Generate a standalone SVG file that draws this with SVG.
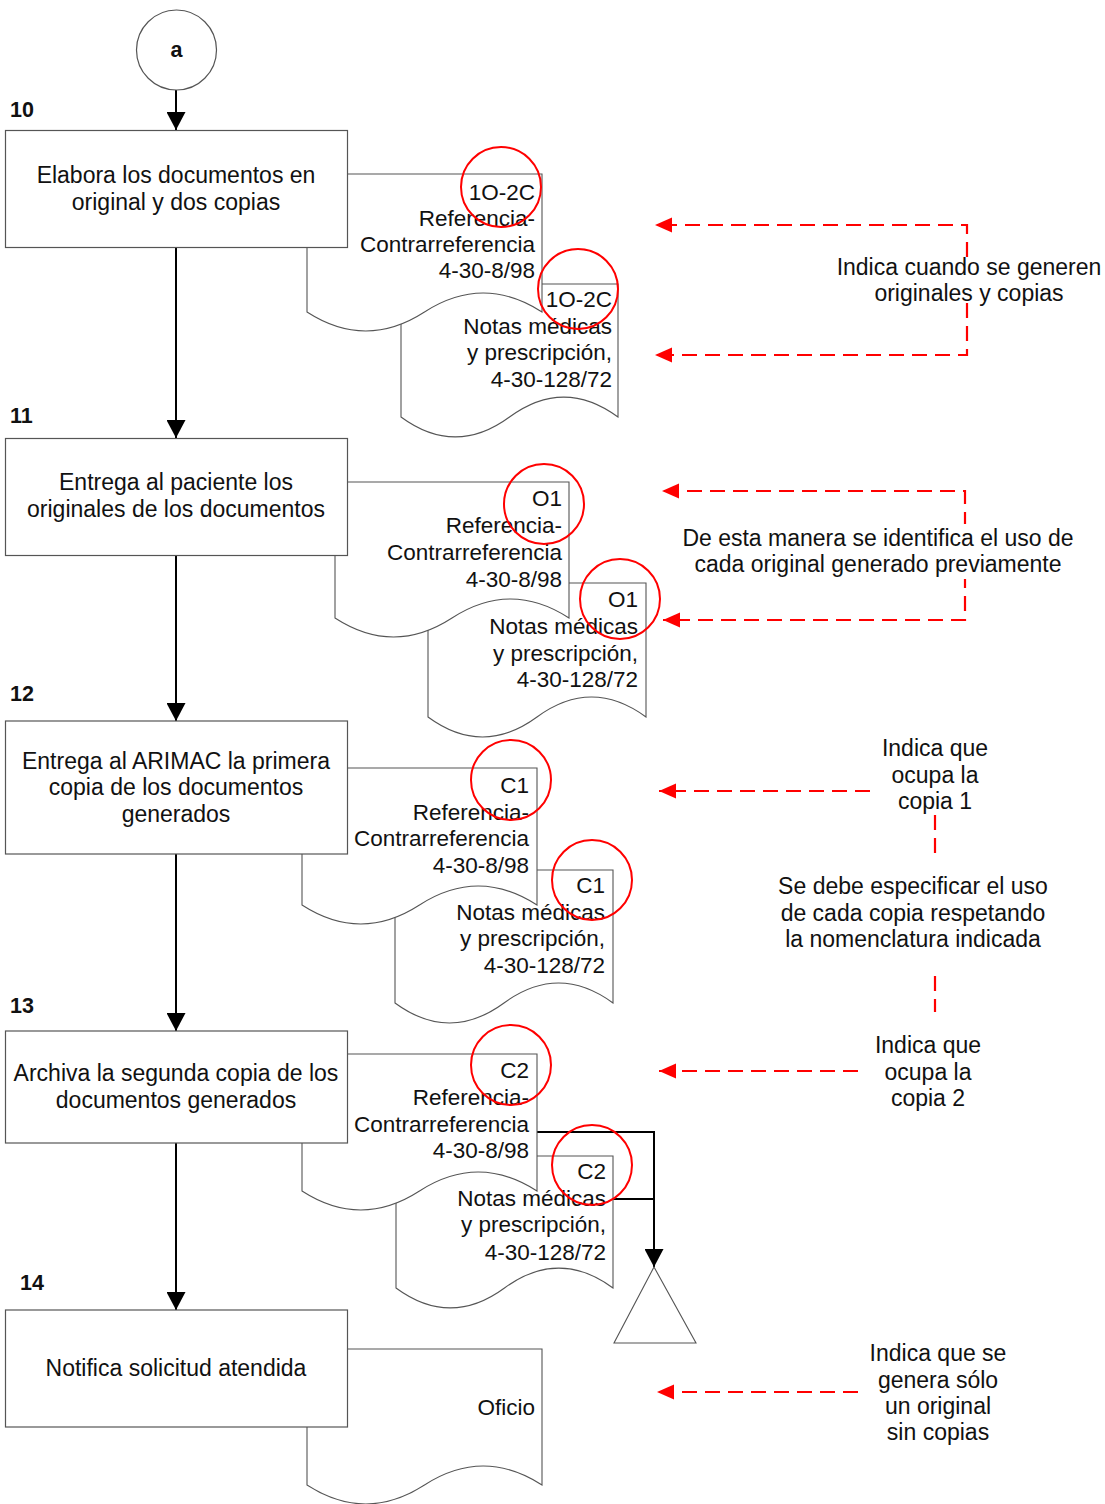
<svg xmlns="http://www.w3.org/2000/svg" width="1105" height="1504" viewBox="0 0 1105 1504">
  <style>
    .box { fill: #fff; stroke: #555; stroke-width: 1.2; }
    .doc { fill: #fff; stroke: #555; stroke-width: 1.1; }
    .t { font-family: "Liberation Sans", Arial, Helvetica, sans-serif; font-size: 23px; fill: #111; }
    .tc { text-anchor: middle; }
    .dt { font-family: "Liberation Sans", Arial, Helvetica, sans-serif; font-size: 22.5px; fill: #111; text-anchor: end; }
    .num { font-family: "Liberation Sans", Arial, Helvetica, sans-serif; font-size: 21.5px; font-weight: bold; fill: #111; }
    .flow { fill: none; stroke: #000; stroke-width: 2; }
    .note { fill: none; stroke: #f00; stroke-width: 2.2; stroke-dasharray: 15 8; }
    .mark { fill: none; stroke: #f00; stroke-width: 2; }
    .bg { fill: #fff; stroke: none; }
  </style>
  <defs>
    <marker id="arrowBlack" markerUnits="userSpaceOnUse" markerWidth="19" markerHeight="19" refX="18" refY="9.5" orient="auto">
      <path d="M0,0 L18,9.5 L0,19 Z" fill="#000"/>
    </marker>
    <marker id="arrowRed" markerUnits="userSpaceOnUse" markerWidth="18" markerHeight="16" refX="17" refY="7.5" orient="auto">
      <path d="M0,0 L17,7.5 L0,15 Z" fill="#f00"/>
    </marker>
  </defs>

  <rect width="1105" height="1504" fill="#fff"/>

  <!-- main flow and annotation connectors -->
  <g id="connectors">
    <path class="flow" d="M176,90 V130" marker-end="url(#arrowBlack)"/>
    <path class="flow" d="M176,247 V438" marker-end="url(#arrowBlack)"/>
    <path class="flow" d="M176,556 V721" marker-end="url(#arrowBlack)"/>
    <path class="flow" d="M176,854 V1031" marker-end="url(#arrowBlack)"/>
    <path class="flow" d="M176,1143 V1310" marker-end="url(#arrowBlack)"/>
    <path class="flow" d="M537,1132 H654 V1267" marker-end="url(#arrowBlack)"/>
    <path class="flow" d="M613,1199 H654"/>

    <path class="note" d="M967,280 V225 H655" marker-end="url(#arrowRed)"/>
    <path class="note" d="M967,280 V355 H655" marker-end="url(#arrowRed)"/>
    <path class="note" d="M965,550 V491 H662" marker-end="url(#arrowRed)"/>
    <path class="note" d="M965,550 V620 H663" marker-end="url(#arrowRed)"/>
    <path class="note" d="M870,791 H659" marker-end="url(#arrowRed)"/>
    <path class="note" d="M935,815 V1012"/>
    <path class="note" d="M858,1071 H659" marker-end="url(#arrowRed)"/>
    <path class="note" d="M858,1392 H657" marker-end="url(#arrowRed)"/>
  </g>

  <!-- connector circle -->
  <g id="start-a">
    <circle cx="176.5" cy="50" r="40" fill="#fff" stroke="#555" stroke-width="1.2"/>
    <text class="num" x="176.5" y="57" text-anchor="middle">a</text>
  </g>

  <!-- step 10 -->
  <g id="step-10">
    <text class="num" x="10" y="117">10</text>
    <path class="doc" d="M401,417 V284 H618 V417 C581.8,390.4 545.7,390.4 509.5,417 S437.2,443.6 401,417 Z"/>
    <text class="dt" x="612" y="307">1O-2C</text>
    <text class="dt" x="612" y="334">Notas médicas</text>
    <text class="dt" x="612" y="360">y prescripción,</text>
    <text class="dt" x="612" y="387">4-30-128/72</text>
    <path class="doc" d="M307,312 V174 H542 V312 C502.8,286.7 463.7,286.7 424.5,312 S346.2,337.3 307,312 Z"/>
    <text class="dt" x="535" y="200">1O-2C</text>
    <text class="dt" x="535" y="226">Referencia-</text>
    <text class="dt" x="535" y="252">Contrarreferencia</text>
    <text class="dt" x="535" y="278">4-30-8/98</text>
    <rect class="box" x="5.5" y="130.5" width="342" height="117"/>
    <text class="t tc" x="176" y="183">Elabora los documentos en</text>
    <text class="t tc" x="176" y="210">original y dos copias</text>
  </g>

  <!-- step 11 -->
  <g id="step-11">
    <text class="num" x="10" y="423">11</text>
    <path class="doc" d="M428,717 V583 H646 V717 C609.7,690.4 573.3,690.4 537,717 S464.3,743.6 428,717 Z"/>
    <text class="dt" x="638" y="607">O1</text>
    <text class="dt" x="638" y="634">Notas médicas</text>
    <text class="dt" x="638" y="661">y prescripción,</text>
    <text class="dt" x="638" y="687">4-30-128/72</text>
    <path class="doc" d="M335,618 V482 H569 V618 C530,592.7 491,592.7 452,618 S374,643.3 335,618 Z"/>
    <text class="dt" x="562" y="506">O1</text>
    <text class="dt" x="562" y="533">Referencia-</text>
    <text class="dt" x="562" y="560">Contrarreferencia</text>
    <text class="dt" x="562" y="587">4-30-8/98</text>
    <rect class="box" x="5.5" y="438.5" width="342" height="117"/>
    <text class="t tc" x="176" y="490">Entrega al paciente los</text>
    <text class="t tc" x="176" y="517">originales de los documentos</text>
  </g>

  <!-- step 12 -->
  <g id="step-12">
    <text class="num" x="10" y="701">12</text>
    <path class="doc" d="M395,1003 V870 H613 V1003 C576.7,976.4 540.3,976.4 504,1003 S431.3,1029.6 395,1003 Z"/>
    <text class="dt" x="605" y="893">C1</text>
    <text class="dt" x="605" y="920">Notas médicas</text>
    <text class="dt" x="605" y="946">y prescripción,</text>
    <text class="dt" x="605" y="973">4-30-128/72</text>
    <path class="doc" d="M302,905 V768 H537 V905 C497.8,879.7 458.7,879.7 419.5,905 S341.2,930.3 302,905 Z"/>
    <text class="dt" x="529" y="793">C1</text>
    <text class="dt" x="529" y="820">Referencia-</text>
    <text class="dt" x="529" y="846">Contrarreferencia</text>
    <text class="dt" x="529" y="873">4-30-8/98</text>
    <rect class="box" x="5.5" y="721" width="342" height="133"/>
    <text class="t tc" x="176" y="769">Entrega al ARIMAC la primera</text>
    <text class="t tc" x="176" y="795">copia de los documentos</text>
    <text class="t tc" x="176" y="822">generados</text>
  </g>

  <!-- step 13 -->
  <g id="step-13">
    <text class="num" x="10" y="1013">13</text>
    <path class="doc" d="M396,1288 V1156 H613 V1288 C576.8,1261.4 540.7,1261.4 504.5,1288 S432.2,1314.6 396,1288 Z"/>
    <text class="dt" x="606" y="1179">C2</text>
    <text class="dt" x="606" y="1206">Notas médicas</text>
    <text class="dt" x="606" y="1232">y prescripción,</text>
    <text class="dt" x="606" y="1260">4-30-128/72</text>
    <path class="doc" d="M302,1191 V1054 H537 V1191 C497.8,1165.7 458.7,1165.7 419.5,1191 S341.2,1216.3 302,1191 Z"/>
    <text class="dt" x="529" y="1078">C2</text>
    <text class="dt" x="529" y="1105">Referencia-</text>
    <text class="dt" x="529" y="1132">Contrarreferencia</text>
    <text class="dt" x="529" y="1158">4-30-8/98</text>
    <rect class="box" x="5.5" y="1031" width="342" height="112"/>
    <text class="t tc" x="176" y="1081">Archiva la segunda copia de los</text>
    <text class="t tc" x="176" y="1108">documentos generados</text>
  </g>

  <!-- archive (file) symbol -->
  <g id="archive">
    <path d="M654,1267 L696,1343 L614,1343 Z" fill="#fff" stroke="#555" stroke-width="1.1"/>
  </g>

  <!-- step 14 -->
  <g id="step-14">
    <text class="num" x="20" y="1290">14</text>
    <path class="doc" d="M307,1485 V1349 H542 V1485 C502.8,1459.7 463.7,1459.7 424.5,1485 S346.2,1510.3 307,1485 Z"/>
    <text class="dt" x="535" y="1415">Oficio</text>
    <rect class="box" x="5.5" y="1310" width="342" height="117"/>
    <text class="t tc" x="176" y="1376">Notifica solicitud atendida</text>
  </g>

  <!-- copy markers -->
  <g id="markers">
    <circle class="mark" cx="501" cy="187" r="40"/>
    <circle class="mark" cx="578" cy="289" r="40"/>
    <circle class="mark" cx="544" cy="504" r="40"/>
    <circle class="mark" cx="620" cy="599" r="40"/>
    <circle class="mark" cx="511" cy="780" r="40"/>
    <circle class="mark" cx="592" cy="880" r="40"/>
    <circle class="mark" cx="511" cy="1065" r="40"/>
    <circle class="mark" cx="592" cy="1165" r="40"/>
  </g>

  <!-- notes -->
  <g id="note-originales">
    <rect class="bg" x="838" y="259" width="264" height="41"/>
    <text class="t tc" x="969" y="275">Indica cuando se generen</text>
    <text class="t tc" x="969" y="301">originales y copias</text>
  </g>
  <g id="note-uso-original">
    <rect class="bg" x="682" y="524" width="392" height="55"/>
    <text class="t tc" x="878" y="546">De esta manera se identifica el uso de</text>
    <text class="t tc" x="878" y="572">cada original generado previamente</text>
  </g>
  <g id="note-copia1">
    <text class="t tc" x="935" y="756">Indica que</text>
    <text class="t tc" x="935" y="783">ocupa la</text>
    <text class="t tc" x="935" y="809">copia 1</text>
  </g>
  <g id="note-nomenclatura">
    <rect class="bg" x="776" y="857" width="275" height="113"/>
    <text class="t tc" x="913" y="894">Se debe especificar el uso</text>
    <text class="t tc" x="913" y="921">de cada copia respetando</text>
    <text class="t tc" x="913" y="947">la nomenclatura indicada</text>
  </g>
  <g id="note-copia2">
    <text class="t tc" x="928" y="1053">Indica que</text>
    <text class="t tc" x="928" y="1080">ocupa la</text>
    <text class="t tc" x="928" y="1106">copia 2</text>
  </g>
  <g id="note-oficio">
    <text class="t tc" x="938" y="1361">Indica que se</text>
    <text class="t tc" x="938" y="1388">genera sólo</text>
    <text class="t tc" x="938" y="1414">un original</text>
    <text class="t tc" x="938" y="1440">sin copias</text>
  </g>
</svg>
